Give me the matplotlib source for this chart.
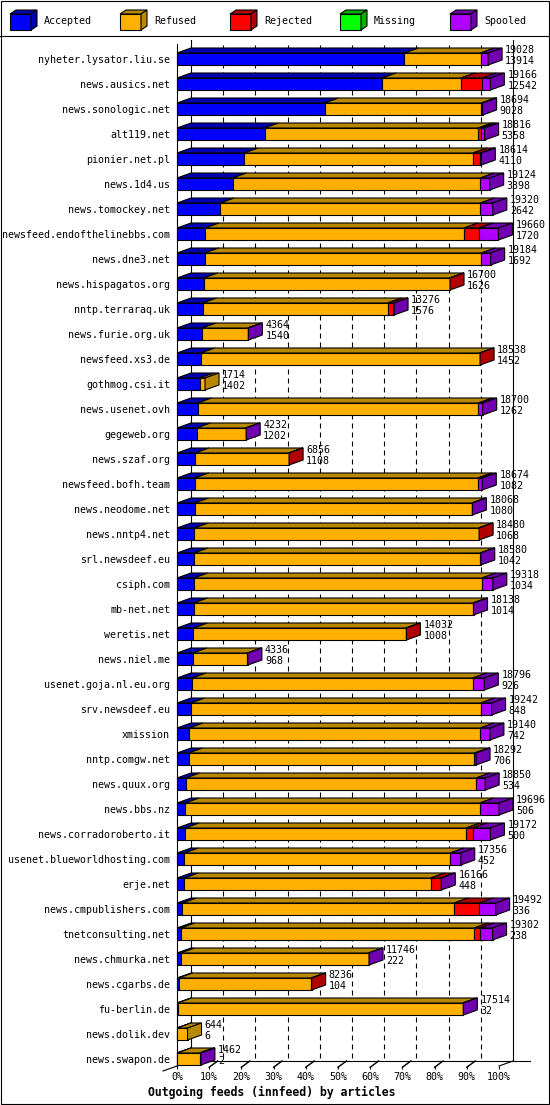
import matplotlib
matplotlib.use('Agg')
import matplotlib.pyplot as plt
from matplotlib.patches import Polygon, Rectangle

# ---------------- data ----------------
hosts = ["nyheter.lysator.liu.se", "news.ausics.net", "news.sonologic.net", "alt119.net",
         "pionier.net.pl", "news.1d4.us", "news.tomockey.net", "newsfeed.endofthelinebbs.com",
         "news.dne3.net", "news.hispagatos.org", "nntp.terraraq.uk", "news.furie.org.uk",
         "newsfeed.xs3.de", "gothmog.csi.it", "news.usenet.ovh", "gegeweb.org",
         "news.szaf.org", "newsfeed.bofh.team", "news.neodome.net", "news.nntp4.net",
         "srl.newsdeef.eu", "csiph.com", "mb-net.net", "weretis.net", "news.niel.me",
         "usenet.goja.nl.eu.org", "srv.newsdeef.eu", "xmission", "nntp.comgw.net",
         "news.quux.org", "news.bbs.nz", "news.corradoroberto.it",
         "usenet.blueworldhosting.com", "erje.net", "news.cmpublishers.com",
         "tnetconsulting.net", "news.chmurka.net", "news.cgarbs.de", "fu-berlin.de",
         "news.dolik.dev", "news.swapon.de"]

total = [19028, 19166, 18694, 18816, 18614, 19124, 19320, 19660, 19184, 16700,
         13276, 4364, 18538, 1714, 18700, 4232, 6856, 18674, 18068, 18480,
         18580, 19318, 18138, 14032, 4336, 18796, 19242, 19140, 18292, 18850,
         19696, 19172, 17356, 16166, 19492, 19302, 11746, 8236, 17514, 644, 1462]

accepted = [13914, 12542, 9028, 5358, 4110, 3398, 2642, 1720, 1692, 1626,
            1576, 1540, 1452, 1402, 1262, 1202, 1108, 1082, 1080, 1068,
            1042, 1034, 1014, 1008, 968, 926, 848, 742, 706, 534,
            506, 500, 452, 448, 336, 238, 222, 104, 32, 6, 2]

refused = [4660, 4830, 9590, 13070, 13994, 15150, 15920, 15840, 16925, 15050,
           11300, 2790, 17060, 312, 17170, 3000, 5720, 17320, 16960, 17380,
           17510, 17620, 17090, 13000, 3340, 17165, 17740, 17800, 17490, 17760,
           18020, 17190, 16260, 15070, 16620, 17950, 11500, 8110, 17460, 638, 1380]

rejected = [0, 1300, 0, 143, 430, 0, 0, 915, 0, 24,
            360, 0, 26, 0, 0, 0, 28, 0, 0, 32,
            0, 0, 0, 24, 0, 0, 0, 0, 0, 0,
            0, 420, 0, 620, 1530, 360, 0, 22, 0, 0, 0]

missing = [0, 0, 0, 0, 0, 0, 0, 0, 0, 0,
           0, 0, 0, 0, 0, 0, 0, 0, 0, 0,
           0, 0, 0, 0, 0, 0, 0, 0, 0, 0,
           0, 0, 0, 0, 0, 0, 0, 0, 0, 0, 0]

spooled = [454, 494, 76, 245, 80, 576, 758, 1185, 567, 0,
           40, 34, 0, 0, 268, 30, 0, 272, 28, 0,
           28, 664, 34, 0, 28, 705, 654, 598, 96, 556,
           1170, 1062, 644, 28, 1006, 754, 24, 0, 22, 0, 80]

series_names = ["Accepted", "Refused", "Rejected", "Missing", "Spooled"]
x_tick_labels = ["0%", "10%", "20%", "30%", "40%", "50%", "60%", "70%", "80%", "90%", "100%"]
title = "Outgoing feeds (innfeed) by articles"

# ---------------- style ----------------
front_col = ["#0000ff", "#ffb000", "#ff0000", "#00ff00", "#b000ff"]
dark_col = ["#0000b0", "#b88800", "#b00000", "#00b000", "#7000b0"]
MONO = "DejaVu Sans Mono"
FS = 7.2
LW = 0.8

W, H = 550, 1105
fig = plt.figure(figsize=(W / 100, H / 100), dpi=100)

# background / frame axes in pixel coordinates
bg = fig.add_axes([0, 0, 1, 1], zorder=0)
bg.set_xlim(0, W)
bg.set_ylim(H, 0)
bg.axis('off')
bg.add_patch(Rectangle((0.5, 0.5), W - 1.5, H - 1.5, fill=False, ec='black', lw=LW))
bg.plot([0, W], [36, 36], color='black', lw=LW)

# legend
leg_x = [10, 120, 230, 340, 450]
for k, name in enumerate(series_names):
    x = leg_x[k]
    bg.add_patch(Rectangle((x, 14), 21, 16, fc=front_col[k], ec='black', lw=LW))
    bg.add_patch(Polygon([(x, 14), (x + 6, 10), (x + 27, 10), (x + 21, 14)], closed=True,
                         fc=dark_col[k], ec='black', lw=LW))
    bg.add_patch(Polygon([(x + 21, 14), (x + 27, 10), (x + 27, 26), (x + 21, 30)], closed=True,
                         fc=dark_col[k], ec='black', lw=LW))
    bg.text(x + 34, 21, name, family=MONO, fontsize=FS, va='center', ha='left')

bg.text(148, 1092, title, family=MONO, fontsize=8.3, fontweight='bold', va='center', ha='left')

# ---------------- chart geometry (pixels) ----------------
X0, X100 = 177, 499
Y_TOP_FRONT = 44
Y_TOP_BACK = 40
Y_FRONT = 1066
ROW0, PITCH = 59, 25
DXP, DYP = 14, 5
HALF = 6

n = len(hosts)
xmax = max(total)
ax = fig.add_axes([X0 / W, (H - Y_FRONT) / H, (X100 - X0) / W, (Y_FRONT - Y_TOP_FRONT) / H], zorder=2)
ax.patch.set_alpha(0)
y_bottom = (Y_FRONT - ROW0) / PITCH
y_top = (Y_TOP_FRONT - ROW0) / PITCH
ax.set_xlim(0, xmax)
ax.set_ylim(y_bottom, y_top)
dx = DXP * xmax / (X100 - X0)
dy = DYP / PITCH
h = HALF / PITCH
y_back_top = (Y_TOP_BACK - ROW0) / PITCH
y_back_floor = y_bottom - dy

ticks = [xmax * k / 10 for k in range(11)]

# back wall: dashed grid, solid edges, floor
for k in range(1, 10):
    ax.plot([ticks[k] + dx] * 2, [y_back_top + 0.2, y_back_floor], color='black', lw=LW,
            dashes=(4.5, 3.6), zorder=1, clip_on=False)
ax.plot([dx, dx], [y_back_top, y_back_floor], color='black', lw=LW, zorder=1, clip_on=False)
ax.plot([xmax + dx] * 2, [y_back_top, y_back_floor], color='black', lw=LW, zorder=1, clip_on=False)
ax.plot([dx, xmax + dx * 2.2], [y_back_floor, y_back_floor], color='black', lw=LW, zorder=1, clip_on=False)
# floor depth edges
ax.plot([-dx, dx], [y_bottom + dy, y_back_floor], color='black', lw=LW, zorder=1, clip_on=False)
ax.plot([xmax, xmax + dx], [y_bottom, y_back_floor], color='black', lw=LW, zorder=1, clip_on=False)
for k in range(1, 10):
    ax.plot([ticks[k], ticks[k] + dx * 0.6], [y_bottom + 0.05, y_back_floor], color='black',
            lw=LW * 1.3, zorder=1, clip_on=False)

# bars
all_series = [accepted, refused, rejected, missing, spooled]
for i in range(n):
    left = 0
    last = None
    for s, vals in enumerate(all_series):
        v = vals[i]
        if v <= 0:
            continue
        bars = ax.barh(i, v, left=left, height=2 * h, color=front_col[s], edgecolor='black',
                       linewidth=LW, zorder=3)
        for b in bars:
            b.set_clip_on(False)
        ax.add_patch(Polygon([(left, i - h), (left + dx, i - h - dy), (left + v + dx, i - h - dy),
                              (left + v, i - h)], closed=True, fc=dark_col[s], ec='black',
                             lw=LW, zorder=3, clip_on=False))
        left += v
        last = s
    if last is not None:
        ax.add_patch(Polygon([(left, i - h), (left + dx, i - h - dy), (left + dx, i + h - dy),
                              (left, i + h)], closed=True, fc=dark_col[last], ec='black',
                             lw=LW, zorder=3, clip_on=False))
    ax.annotate(str(total[i]), (total[i] + dx, i), xytext=(3, 9), textcoords='offset pixels',
                family=MONO, fontsize=FS, va='center', ha='left', zorder=5, annotation_clip=False)
    ax.annotate(str(accepted[i]), (total[i] + dx, i), xytext=(3, -2), textcoords='offset pixels',
                family=MONO, fontsize=FS, va='center', ha='left', zorder=5, annotation_clip=False)

# axes
ax.set_yticks(range(n))
ax.set_yticklabels(hosts, family=MONO, fontsize=FS)
ax.tick_params(axis='y', length=0, pad=5)
ax.set_xticks(ticks)
ax.set_xticklabels(x_tick_labels, family=MONO, fontsize=FS)
ax.tick_params(axis='x', length=2.5, width=LW, direction='out', pad=1.5)
for sp in ['top', 'right', 'bottom']:
    ax.spines[sp].set_visible(False)
ax.spines['left'].set_linewidth(LW)

fig.savefig('out.png', dpi=100)
